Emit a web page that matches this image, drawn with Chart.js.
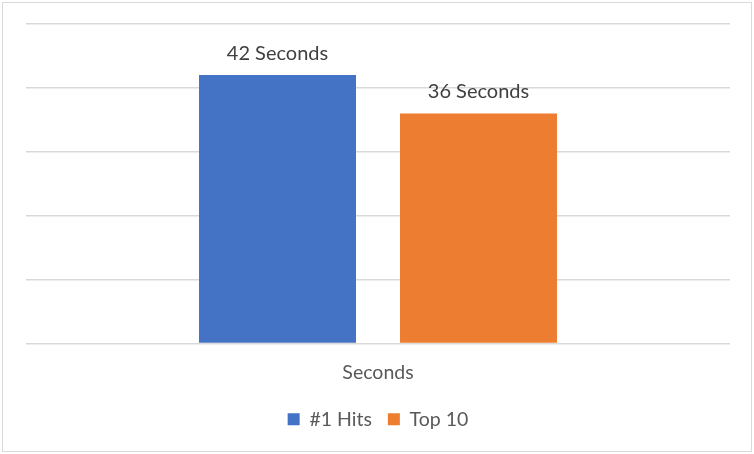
<!DOCTYPE html>
<html>
<head>
<meta charset="utf-8">
<script src="https://cdn.jsdelivr.net/npm/chart.js@4"></script>
<style>
  html, body { margin: 0; padding: 0; background: #fff; }
  #wrap { position: absolute; left: 0; top: 0; width: 754px; height: 454px; }
  #frame { position: absolute; left: 2px; top: 2px; width: 748px; height: 448px; border: 1px solid #d9d9d9; pointer-events: none; }
</style>
</head>
<body>
<div id="wrap"><canvas id="c" width="754" height="454"></canvas></div>
<div id="frame"></div>
<script>
const categories = ['Seconds'];
const seriesNames = ['#1 Hits', 'Top 10'];
const hitsValues = [42];
const top10Values = [36];
const labelSuffix = ' Seconds';
const yTicks = [0, 10, 20, 30, 40, 50];

const FONT = 'Lato, "Open Sans", sans-serif';

const dataLabels = {
  id: 'dataLabels',
  afterDatasetsDraw(chart) {
    const ctx = chart.ctx;
    ctx.save();
    ctx.font = '20px ' + FONT;
    ctx.fillStyle = '#404040';
    ctx.textAlign = 'center';
    ctx.textBaseline = 'middle';
    chart.data.datasets.forEach((ds, i) => {
      const meta = chart.getDatasetMeta(i);
      meta.data.forEach((el, j) => {
        ctx.fillText(ds.data[j] + labelSuffix, el.x, el.y - 22);
      });
    });
    ctx.restore();
  }
};

new Chart(document.getElementById('c'), {
  type: 'bar',
  data: {
    labels: categories,
    datasets: [
      { label: seriesNames[0], data: hitsValues, backgroundColor: '#4472C4', categoryPercentage: 0.571, barPercentage: 0.781 },
      { label: seriesNames[1], data: top10Values, backgroundColor: '#ED7D31', categoryPercentage: 0.571, barPercentage: 0.781 }
    ]
  },
  options: {
    responsive: false,
    animation: false,
    devicePixelRatio: 1,
    layout: { padding: { left: 26, right: 24, top: 24, bottom: 15 } },
    plugins: {
      legend: {
        position: 'bottom',
        labels: {
          boxWidth: 12, boxHeight: 12, padding: 16,
          color: '#595959',
          font: { family: FONT, size: 19.5 }
        }
      },
      tooltip: { enabled: false }
    },
    scales: {
      x: {
        grid: { display: false },
        border: { display: false },
        ticks: { color: '#595959', font: { family: FONT, size: 19.5 }, padding: 10 },
        afterFit(s) { s.height = 50; }
      },
      y: {
        min: 0, max: 50,
        afterBuildTicks(s) { s.ticks = yTicks.map(v => ({ value: v })); },
        ticks: { display: false },
        grid: { color: '#d9d9d9', lineWidth: 1.5, drawTicks: false },
        border: { display: false },
        afterFit(s) { s.width = 0; }
      }
    }
  },
  plugins: [dataLabels]
});
</script>
</body>
</html>
